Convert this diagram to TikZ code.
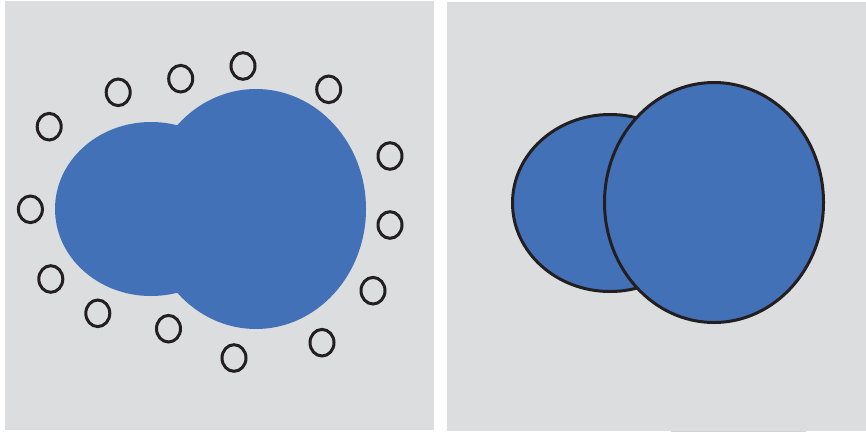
\documentclass[tikz,border=0pt]{standalone}
\begin{document}
\begin{tikzpicture}[x=1pt,y=-1pt,
  panel/.style={fill=panelgray,draw=none},
  blob/.style={fill=blobblue,draw=none},
  outlined/.style={fill=blobblue,draw=inkdark,line width=3pt},
  ring/.style={draw=inkdark,line width=3pt,fill=none}]
\definecolor{panelgray}{HTML}{DCDDDF}
\definecolor{blobblue}{HTML}{4371B8}
\definecolor{inkdark}{HTML}{231F20}
\useasboundingbox (0,0) rectangle (866,432);
\fill[white] (0,0) rectangle (866,432);
% panels
\path[panel] (5,1) rectangle (434,430);
\path[panel] (447,2) rectangle (866,431);
\fill[panelgray!90!gray] (671,430.6) rectangle (806,432);
% left panel: merged blob
\path[blob] (151,209) ellipse [x radius=96, y radius=87];
\path[blob] (256,209) ellipse [x radius=110, y radius=120];
% rings
\foreach \p in {(49.2,126.7),(118.2,92.3),(180.7,78.7),(243,66),(328.7,89.3),
  (390,156),(390,225),(373,290.7),(322,342.7),(234,358),(168.5,328.7),
  (97.8,313.3),(50.8,279),(30.4,209.3)}
  \draw[ring] \p ellipse [x radius=12, y radius=13.3];
% right panel: two outlined ellipses
\path[outlined] (610,203) ellipse [x radius=97.5, y radius=88.5];
\path[outlined] (714,202.5) ellipse [x radius=109.5, y radius=120];
\end{tikzpicture}
\end{document}
